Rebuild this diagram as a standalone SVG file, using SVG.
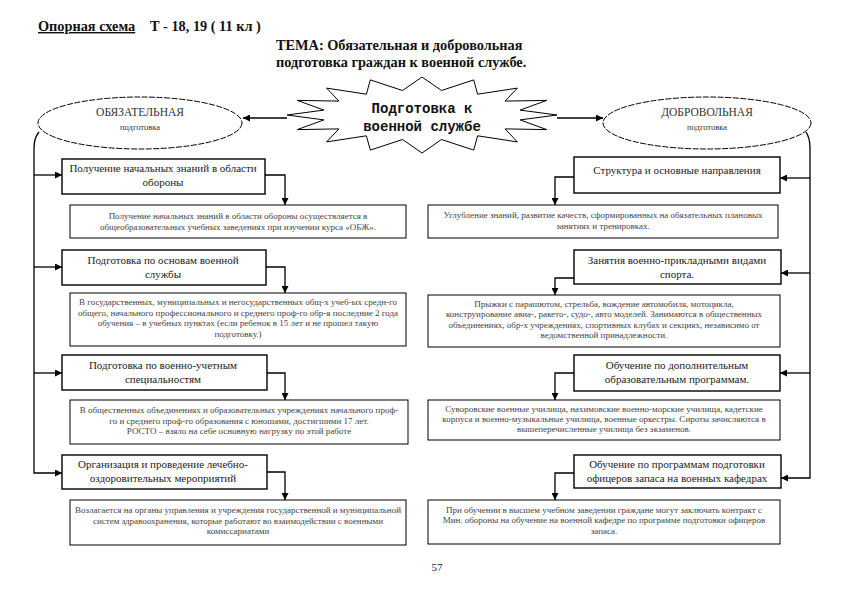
<svg xmlns="http://www.w3.org/2000/svg" width="841" height="595" viewBox="0 0 841 595">
<defs>
<marker id="ah" viewBox="0 0 10 10" refX="10" refY="5" markerWidth="7" markerHeight="7" markerUnits="userSpaceOnUse" orient="auto"><path d="M0,0 L10,5 L0,10 z" fill="#000"/></marker>
<style>
.hdr{font-family:"Liberation Serif",serif;font-weight:bold;font-size:14.3px;fill:#111}
.ttl{font-family:"Liberation Serif",serif;font-size:11px;fill:#222;text-anchor:middle}
.det{font-family:"Liberation Serif",serif;font-size:9px;fill:#444;text-anchor:middle}
.tb{fill:#fff;stroke:#000;stroke-width:1.4}
.db{fill:#fff;stroke:#000;stroke-width:1}
.ln{fill:none;stroke:#000;stroke-width:1.3}
.ell{fill:#fff;stroke:#000;stroke-width:1;stroke-dasharray:6 1.5}
.star{font-family:"Liberation Mono",monospace;font-weight:bold;font-size:14px;fill:#111;text-anchor:middle}
.et1{font-family:"Liberation Serif",serif;font-size:11.5px;fill:#333;text-anchor:middle}
.et2{font-family:"Liberation Serif",serif;font-size:8.5px;fill:#333;text-anchor:middle}
</style>
</defs>
<rect width="841" height="595" fill="#fff"/>

<g id="header">
<text class="hdr" x="38" y="31" text-decoration="underline">Опорная схема</text>
<text class="hdr" x="150" y="31">Т - 18, 19 ( 11 кл )</text>
<text class="hdr" x="276" y="50">ТЕМА: Обязательная и добровольная</text>
<text class="hdr" x="276" y="67">подготовка граждан к военной службе.</text>
</g>

<g id="connectors">
<path class="ln" d="M287,118 H243" marker-end="url(#ah)"/>
<path class="ln" d="M557,118 H603" marker-end="url(#ah)"/>
<path class="ln" d="M39,132 Q34,138 34,148 V473 H62" marker-end="url(#ah)"/>
<path class="ln" d="M34,175 H62" marker-end="url(#ah)"/>
<path class="ln" d="M34,267 H62" marker-end="url(#ah)"/>
<path class="ln" d="M34,373 H62" marker-end="url(#ah)"/>
<path class="ln" d="M806,132 Q810,138 810,148 V478 H781" marker-end="url(#ah)"/>
<path class="ln" d="M810,178 H780" marker-end="url(#ah)"/>
<path class="ln" d="M810,273 H781" marker-end="url(#ah)"/>
<path class="ln" d="M810,373 H780" marker-end="url(#ah)"/>
<path class="ln" d="M265,175 H285 V205" marker-end="url(#ah)"/>
<path class="ln" d="M266,267 H285 V293" marker-end="url(#ah)"/>
<path class="ln" d="M267,373 H285 V400" marker-end="url(#ah)"/>
<path class="ln" d="M267,472 H285 V500" marker-end="url(#ah)"/>
<path class="ln" d="M574,177 H555 V205" marker-end="url(#ah)"/>
<path class="ln" d="M574,278 H555 V295" marker-end="url(#ah)"/>
<path class="ln" d="M574,373 H555 V400" marker-end="url(#ah)"/>
<path class="ln" d="M574,473 H555 V500" marker-end="url(#ah)"/>
</g>

<g id="center-star">
<polygon fill="#fff" stroke="#000" stroke-width="1" points="557,115 520.1,119.9 546.7,129.6 505.1,128.9 517.4,141.9 477.6,135.8 473.7,150.1 441.5,139.5 422,153 402.5,139.5 370.3,150.1 366.4,135.8 326.6,141.9 338.9,128.9 297.3,129.6 323.9,119.9 287,115 323.9,110.1 297.3,100.4 338.9,101.1 326.6,88.1 366.4,94.2 370.3,79.9 402.5,90.5 422,77 441.5,90.5 473.7,79.9 477.6,94.2 517.4,88.1 505.1,101.1 546.7,100.4 520.1,110.1"/>
<text class="star" x="422" y="113">Подготовка к</text>
<text class="star" x="422" y="131">военной службе</text>
</g>

<g id="ellipse-left">
<ellipse class="ell" cx="140" cy="123" rx="102" ry="26"/>
<text class="et1" x="140" y="116">ОБЯЗАТЕЛЬНАЯ</text>
<text class="et2" x="140" y="130">подготовка</text>
</g>

<g id="ellipse-right">
<ellipse class="ell" cx="707" cy="123" rx="104" ry="26"/>
<text class="et1" x="707" y="116">ДОБРОВОЛЬНАЯ</text>
<text class="et2" x="707" y="130">подготовка</text>
</g>

<g id="L1">
<rect class="tb" x="62" y="159" width="203" height="35"/>
<text class="ttl" x="163" y="172">Получение начальных знаний в области</text>
<text class="ttl" x="163" y="186">обороны</text>
</g>
<g id="L1d">
<rect class="db" x="70" y="205" width="336" height="33"/>
<text class="det" x="238" y="219">Получение начальных знаний в области обороны осуществляется в</text>
<text class="det" x="238" y="229.5">общеобразовательных учебных заведениях при изучении курса «ОБЖ».</text>
</g>

<g id="L2">
<rect class="tb" x="62" y="250" width="204" height="35"/>
<text class="ttl" x="163" y="264">Подготовка по основам военной</text>
<text class="ttl" x="163" y="278">службы</text>
</g>
<g id="L2d">
<rect class="db" x="70" y="293" width="336" height="53"/>
<text class="det" x="238" y="305">В государственных, муниципальных и негосударственных общ-х учеб-ых средн-го</text>
<text class="det" x="238" y="315.5">общего, начального профессионального и среднего проф-го обр-я последние 2 года</text>
<text class="det" x="238" y="326">обучения – в учебных пунктах (если ребенок в 15 лет и не прошел такую</text>
<text class="det" x="238" y="336.5">подготовку.)</text>
</g>

<g id="L3">
<rect class="tb" x="62" y="355" width="205" height="35"/>
<text class="ttl" x="163" y="369">Подготовка по военно-учетным</text>
<text class="ttl" x="163" y="383">специальностям</text>
</g>
<g id="L3d">
<rect class="db" x="70" y="400" width="338" height="44"/>
<text class="det" x="239" y="413">В общественных объединениях и образовательных учреждениях начального проф-</text>
<text class="det" x="239" y="423.5">го и среднего проф-го образования с юношами, достигшими 17 лет.</text>
<text class="det" x="239" y="434">РОСТО – взяло на себе основную нагрузку по этой работе</text>
</g>

<g id="L4">
<rect class="tb" x="62" y="455" width="205" height="34"/>
<text class="ttl" x="163" y="468">Организация и проведение лечебно-</text>
<text class="ttl" x="163" y="482">оздоровительных мероприятий</text>
</g>
<g id="L4d">
<rect class="db" x="70" y="500" width="336" height="45"/>
<text class="det" x="238" y="513">Возлагается на органы управления и учреждения государственной и муниципальной</text>
<text class="det" x="238" y="523.5">систем здравоохранения, которые работают во взаимодействии с военными</text>
<text class="det" x="238" y="534">комиссариатами</text>
</g>

<g id="R1">
<rect class="tb" x="574" y="157" width="206" height="36"/>
<text class="ttl" x="677" y="174">Структура и основные направления</text>
</g>
<g id="R1d">
<rect class="db" x="428" y="205" width="350" height="33"/>
<text class="det" x="603" y="218">Углубление знаний, развитие качеств, сформированных на обязательных плановых</text>
<text class="det" x="603" y="228.5">занятиях и тренировках.</text>
</g>

<g id="R2">
<rect class="tb" x="574" y="250" width="207" height="34"/>
<text class="ttl" x="677" y="264">Занятия военно-прикладными видами</text>
<text class="ttl" x="677" y="278">спорта.</text>
</g>
<g id="R2d">
<rect class="db" x="428" y="295" width="352" height="52"/>
<text class="det" x="604" y="306.5">Прыжки с парашютом, стрельба, вождение автомобиля, мотоцикла,</text>
<text class="det" x="604" y="317">конструирование авиа-, ракето-, судо-, авто моделей. Занимаются в общественных</text>
<text class="det" x="604" y="327.5">объединениях, обр-х учреждениях, спортивных клубах и секциях, независимо от</text>
<text class="det" x="604" y="338">ведомственной принадлежности.</text>
</g>

<g id="R3">
<rect class="tb" x="574" y="355" width="206" height="36"/>
<text class="ttl" x="677" y="369">Обучение по дополнительным</text>
<text class="ttl" x="677" y="383">образовательным программам.</text>
</g>
<g id="R3d">
<rect class="db" x="428" y="400" width="352" height="40"/>
<text class="det" x="604" y="411.5">Суворовские военные училища, нахимовские военно-морские училища, кадетские</text>
<text class="det" x="604" y="421.5">корпуса и военно-музыкальные училища, военные оркестры. Сироты зачисляются в</text>
<text class="det" x="604" y="431.5">вышеперечисленные училища без экзаменов.</text>
</g>

<g id="R4">
<rect class="tb" x="574" y="455" width="207" height="33"/>
<text class="ttl" x="677" y="468">Обучение по программам подготовки</text>
<text class="ttl" x="677" y="482">офицеров запаса на военных кафедрах</text>
</g>
<g id="R4d">
<rect class="db" x="428" y="500" width="352" height="44"/>
<text class="det" x="604" y="512.5">При обучении в высшем учебном заведении граждане могут заключать контракт с</text>
<text class="det" x="604" y="523">Мин. обороны на обучение на военной кафедре по программе подготовки офицеров</text>
<text class="det" x="604" y="533.5">запаса.</text>
</g>

<g id="page">
<text x="437" y="571" style="font-family:'Liberation Serif',serif;font-size:11px;fill:#222" text-anchor="middle">57</text>
</g>
</svg>
